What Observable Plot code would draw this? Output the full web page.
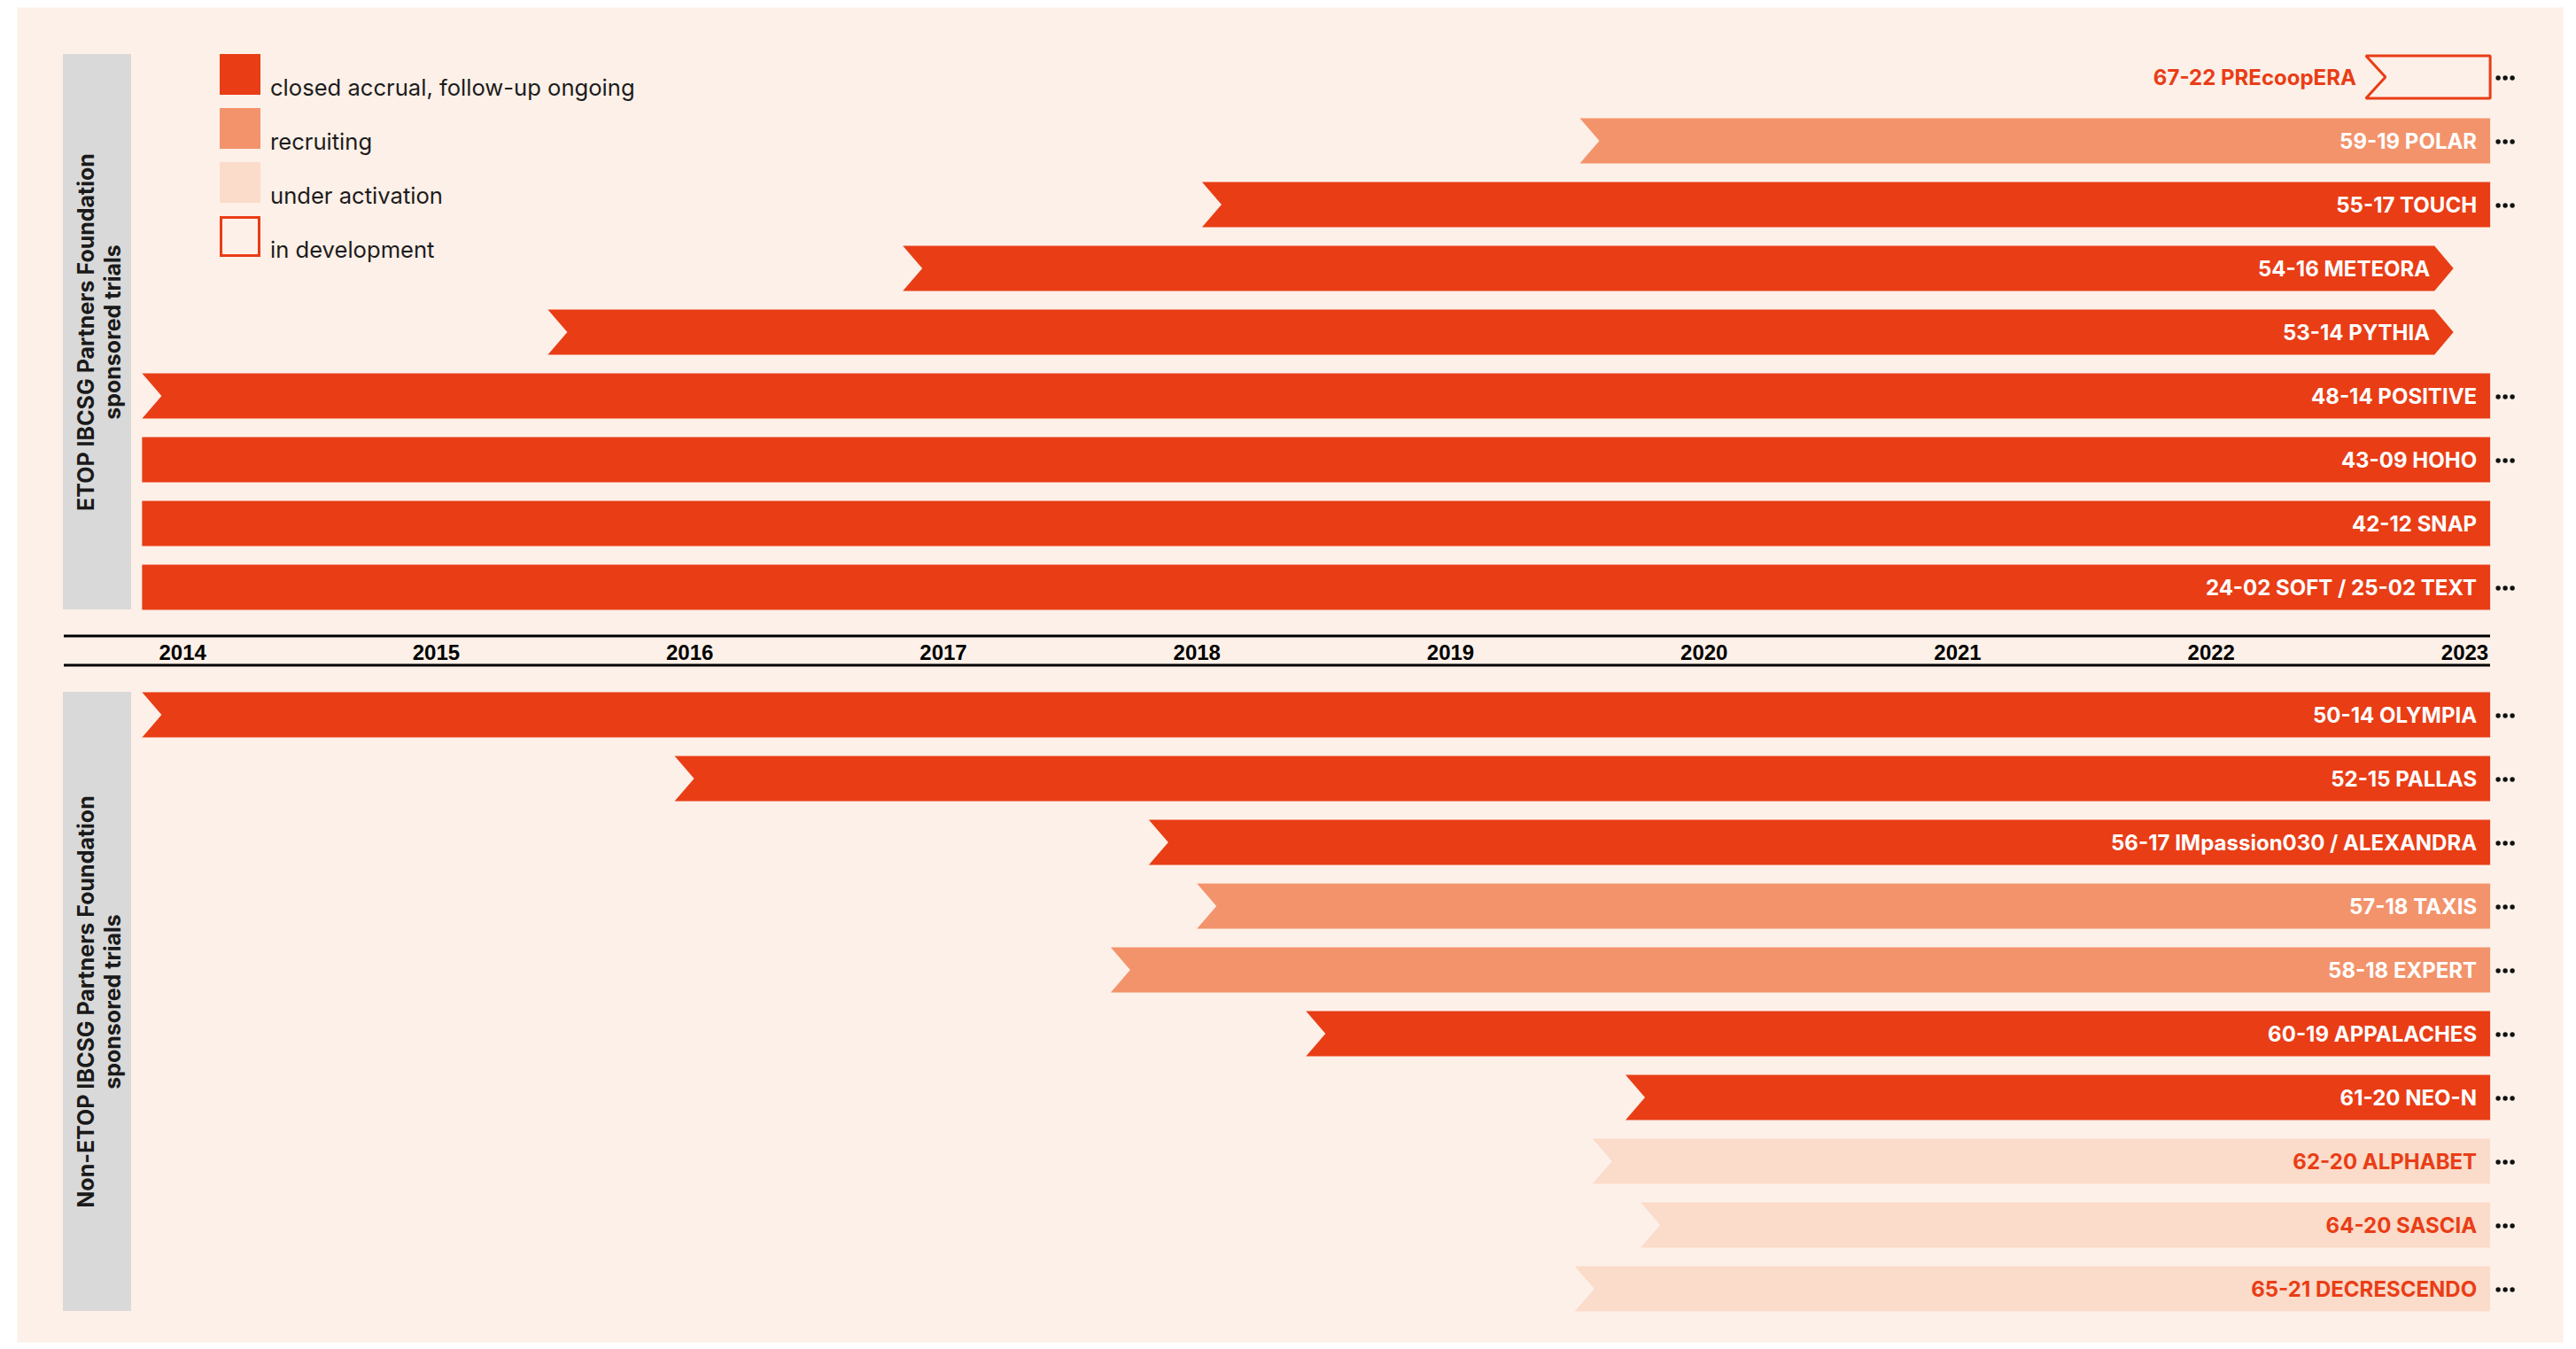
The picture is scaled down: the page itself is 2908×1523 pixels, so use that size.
<!DOCTYPE html>
<html>
<head>
<meta charset="utf-8">
<script src="https://cdn.jsdelivr.net/npm/d3@7"></script>
<script src="https://cdn.jsdelivr.net/npm/@observablehq/plot@0.6"></script>
<style>
  html, body { margin: 0; padding: 0; background: #ffffff; }
  #wrap { position: relative; width: 2908px; height: 1523px; }
  #wrap svg { position: absolute; left: 0; top: 0; }
  .legend { position: absolute; left: 248px; top: 61px; font-family: "Inter", sans-serif; color: #1c1c1c; }
  .item { position: absolute; left: 0; width: 700px; height: 46px; }
  .sw { position: absolute; left: 0; top: 0; width: 46px; height: 46px; box-sizing: border-box; }
  .lab { position: absolute; left: 57px; top: 24.5px; font-size: 25.6px; line-height: 25.6px; white-space: nowrap; }
</style>
</head>
<body>
<div id="wrap"></div>
<script>
// ---------- data ----------
const trialNames = [
  "67-22 PREcoopERA", "59-19 POLAR", "55-17 TOUCH", "54-16 METEORA", "53-14 PYTHIA",
  "48-14 POSITIVE", "43-09 HOHO", "42-12 SNAP", "24-02 SOFT / 25-02 TEXT",
  "50-14 OLYMPIA", "52-15 PALLAS", "56-17 IMpassion030 / ALEXANDRA", "57-18 TAXIS",
  "58-18 EXPERT", "60-19 APPALACHES", "61-20 NEO-N", "62-20 ALPHABET", "64-20 SASCIA",
  "65-21 DECRESCENDO"
];
const trialGroup = [
  "ETOP", "ETOP", "ETOP", "ETOP", "ETOP", "ETOP", "ETOP", "ETOP", "ETOP",
  "Non-ETOP", "Non-ETOP", "Non-ETOP", "Non-ETOP", "Non-ETOP", "Non-ETOP", "Non-ETOP",
  "Non-ETOP", "Non-ETOP", "Non-ETOP"
];
const trialStatus = [
  "development", "recruiting", "closed", "closed", "closed", "closed", "closed", "closed", "closed",
  "closed", "closed", "closed", "recruiting", "recruiting", "closed", "closed",
  "activation", "activation", "activation"
];
const startYear = [
  2022.61, 2019.51, 2018.02, 2016.84, 2015.44, 2013.84, 2013.84, 2013.84, 2013.84,
  2013.84, 2015.94, 2017.81, 2018.00, 2017.66, 2018.43, 2019.69, 2019.56, 2019.75, 2019.49
];
const endYear = [
  2023.10, 2023.10, 2023.10, 2022.88, 2022.88, 2023.10, 2023.10, 2023.10, 2023.10,
  2023.10, 2023.10, 2023.10, 2023.10, 2023.10, 2023.10, 2023.10, 2023.10, 2023.10, 2023.10
];
const startShape = [
  "notch", "notch", "notch", "notch", "notch", "notch", "flat", "flat", "flat",
  "notch", "notch", "notch", "notch", "notch", "notch", "notch", "notch", "notch", "notch"
];
const endShape = [
  "flat", "flat", "flat", "arrow", "arrow", "flat", "flat", "flat", "flat",
  "flat", "flat", "flat", "flat", "flat", "flat", "flat", "flat", "flat", "flat"
];
const ongoing = [
  true, true, true, false, false, true, true, false, true,
  true, true, true, true, true, true, true, true, true, true
];
const years = [2014, 2015, 2016, 2017, 2018, 2019, 2020, 2021, 2022, 2023];
const groupNames = ["ETOP", "Non-ETOP"];
const groupLabels = [
  "ETOP IBCSG Partners Foundation\nsponsored trials",
  "Non-ETOP IBCSG Partners Foundation\nsponsored trials"
];
const statusKeys = ["closed", "recruiting", "activation", "development"];
const legendLabels = ["closed accrual, follow-up ongoing", "recruiting", "under activation", "in development"];
const statusColors = ["#E93D16", "#F3936B", "#FBDBC9", "#E93D16"];

// ---------- layout ----------
const W = 2908, H = 1523;
const X0 = 2014, X1 = 2023, XR0 = 205.7, XR1 = 2782;
const NROWS = 20;
const YR0 = 86.5, YR1 = 86.5 + 72 * (NROWS - 1);
const PX_YR = (XR1 - XR0) / (X1 - X0);
const PX_ROW = (YR1 - YR0) / (NROWS - 1);
const px2yr = p => X0 + (p - XR0) / PX_YR;
const NOTCH = 22 / PX_YR, ARROW = 21.5 / PX_YR, HALF = 25.5 / PX_ROW;
const AXIS_ROW = 9;

const trials = trialNames.map((name, i) => ({
  id: i, name, group: trialGroup[i], status: trialStatus[i],
  start: startYear[i], end: endYear[i], startShape: startShape[i], endShape: endShape[i],
  ongoing: ongoing[i],
  row: i + (trialGroup[i] === "Non-ETOP" ? 1 : 0)
}));

function outline(t, half) {
  const r = t.row, pts = [];
  pts.push([t.start, r - half], [t.end, r - half]);
  if (t.endShape === "arrow") pts.push([t.end + ARROW, r]);
  pts.push([t.end, r + half], [t.start, r + half]);
  if (t.startShape === "notch") pts.push([t.start + NOTCH, r]);
  return pts.map(([x, y]) => ({id: t.id, status: t.status, x, y}));
}
const filledPts = trials.filter(t => t.status !== "development").flatMap(t => outline(t, HALF));
const devPts = trials.filter(t => t.status === "development").flatMap(t => outline(t, HALF - 1.5 / PX_ROW));

const groups = groupNames.map((g, i) => {
  const rows = trials.filter(t => t.group === g).map(t => t.row);
  return {label: groupLabels[i], r1: d3.min(rows) - HALF, r2: d3.max(rows) + HALF, mid: (d3.min(rows) + d3.max(rows)) / 2};
});

const LABEL_FONT = "Inter, sans-serif";
const LABEL_SIZE = 24;
const whiteFlat = trials.filter(t => (t.status === "closed" || t.status === "recruiting") && t.endShape === "flat");
const whiteArrow = trials.filter(t => (t.status === "closed" || t.status === "recruiting") && t.endShape === "arrow");
const orangeFlat = trials.filter(t => t.status === "activation");
const devLabels = trials.filter(t => t.status === "development");
const dotted = trials.filter(t => t.ongoing);

const chart = Plot.plot({
  width: W, height: H,
  marginLeft: 0, marginRight: 0, marginTop: 0, marginBottom: 0,
  x: {domain: [X0, X1], range: [XR0, XR1], axis: null},
  y: {domain: [0, NROWS - 1], range: [YR0, YR1], axis: null},
  color: {domain: statusKeys.slice(0, 3), range: statusColors.slice(0, 3)},
  style: {background: "transparent", overflow: "visible"},
  marks: [
    Plot.frame({fill: "#FDF0E8", stroke: null, insetLeft: 19, insetTop: 8, insetRight: 15, insetBottom: 8}),
    Plot.rect(groups, {x1: px2yr(71), x2: px2yr(148), y1: "r1", y2: "r2", fill: "#D9D9D9"}),
    Plot.text(groups, {x: px2yr(111), y: "mid", text: "label", rotate: -90, fontFamily: LABEL_FONT,
      fontWeight: 700, fontSize: 25, lineHeight: 1.18, fill: "#1a1a1a"}),
    Plot.ruleY([AXIS_ROW], {x1: px2yr(72), x2: px2yr(2811), dy: -17, stroke: "#000", strokeWidth: 3}),
    Plot.ruleY([AXIS_ROW], {x1: px2yr(72), x2: px2yr(2811), dy: 16, stroke: "#000", strokeWidth: 3}),
    Plot.text(years, {x: d => d, y: AXIS_ROW, text: d => String(d), fontFamily: "Liberation Sans, Arial, sans-serif",
      fontWeight: 700, fontSize: 24, fill: "#000", dy: 2.5}),
    Plot.line(filledPts, {x: "x", y: "y", z: "id", fill: "status", stroke: "none", curve: "linear-closed"}),
    Plot.line(devPts, {x: "x", y: "y", z: "id", fill: "none", stroke: statusColors[3], strokeWidth: 3,
      curve: "linear-closed", strokeLinejoin: "miter"}),
    Plot.text(whiteFlat, {x: "end", y: "row", text: "name", textAnchor: "end", dx: -15, dy: 1.5,
      fill: "#ffffff", fontFamily: LABEL_FONT, fontWeight: 700, fontSize: LABEL_SIZE}),
    Plot.text(whiteArrow, {x: "end", y: "row", text: "name", textAnchor: "end", dx: -5, dy: 1.5,
      fill: "#ffffff", fontFamily: LABEL_FONT, fontWeight: 700, fontSize: LABEL_SIZE}),
    Plot.text(orangeFlat, {x: "end", y: "row", text: "name", textAnchor: "end", dx: -15, dy: 1.5,
      fill: "#E93D16", fontFamily: LABEL_FONT, fontWeight: 700, fontSize: LABEL_SIZE}),
    Plot.text(devLabels, {x: "start", y: "row", text: "name", textAnchor: "end", dx: -11, dy: 1.5,
      fill: "#E93D16", fontFamily: LABEL_FONT, fontWeight: 700, fontSize: LABEL_SIZE}),
    Plot.dot(dotted, {x: "end", y: "row", r: 2.7, fill: "#111", stroke: "none", dx: 9, dy: 1}),
    Plot.dot(dotted, {x: "end", y: "row", r: 2.7, fill: "#111", stroke: "none", dx: 17, dy: 1}),
    Plot.dot(dotted, {x: "end", y: "row", r: 2.7, fill: "#111", stroke: "none", dx: 25, dy: 1})
  ]
});

const wrap = document.getElementById("wrap");
wrap.appendChild(chart);

// legend
const legend = document.createElement("div");
legend.className = "legend";
statusKeys.forEach((k, i) => {
  const item = document.createElement("div");
  item.className = "item";
  item.style.top = (i * 61) + "px";
  const sw = document.createElement("div");
  sw.className = "sw";
  if (k === "development") {
    sw.style.border = "3px solid " + statusColors[i];
  } else {
    sw.style.background = statusColors[i];
  }
  const lab = document.createElement("div");
  lab.className = "lab";
  lab.textContent = legendLabels[i];
  item.appendChild(sw);
  item.appendChild(lab);
  legend.appendChild(item);
});
wrap.appendChild(legend);
</script>
</body>
</html>
